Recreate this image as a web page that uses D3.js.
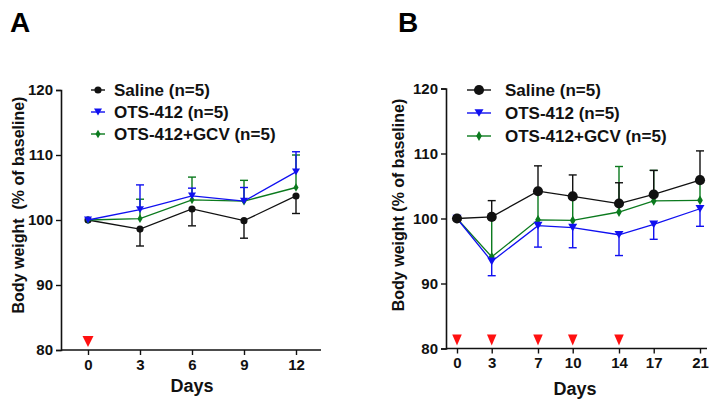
<!DOCTYPE html>
<html>
<head>
<meta charset="utf-8">
<script src="https://cdn.jsdelivr.net/npm/d3@7"></script>
<style>
  body { margin: 0; background: #fff; }
  text { font-family: Arial, "Liberation Sans", sans-serif; font-weight: bold; }
</style>
</head>
<body>
<div id="chart"></div>
<script>
// ---- data, panel A ----
const daysA = [0, 3, 6, 9, 12];
const salineA = [100, 98.6, 101.7, 99.9, 103.7];
const salineErrA = [0, 2.6, 2.6, 2.7, 2.7];          // drawn downward
const otsA = [100, 101.6, 103.7, 102.9, 107.4];
const otsErrA = [0, 3.8, 1.2, 2.1, 3.1];             // drawn upward
const gcvA = [100, 100.2, 103.1, 102.9, 105.0];
const gcvErrA = [0, 3.0, 3.5, 3.2, 5.0];             // drawn upward
const arrowsA = [0];
const legendA = ["Saline (n=5)", "OTS-412 (n=5)", "OTS-412+GCV (n=5)"];

// ---- data, panel B ----
const daysB = [0, 3, 7, 10, 14, 17, 21];
const salineB = [100, 100.25, 104.2, 103.4, 102.3, 103.7, 105.9];
const salineErrB = [0, 2.5, 3.9, 3.3, 3.2, 3.7, 4.5];   // upward
const otsB = [100, 93.4, 98.9, 98.6, 97.5, 99.1, 101.5];
const otsErrB = [0, 2.2, 3.3, 3.1, 3.2, 2.3, 2.7];      // downward
const gcvB = [100, 94.1, 99.8, 99.7, 101.0, 102.7, 102.8];
const gcvErrB = [0, 6.1, 4.4, 3.7, 7.0, 4.7, 3.1];      // upward
const arrowsB = [0, 3, 7, 10, 14];
const legendB = ["Saline (n=5)", "OTS-412 (n=5)", "OTS-412+GCV (n=5)"];

const yTicks = [80, 90, 100, 110, 120];

const BLACK = "#111", BLUE = "#1010f0", GREEN = "#0b7a1e", RED = "#ff1010";

const svg = d3.select("#chart").append("svg")
    .attr("width", 716)
    .attr("height", 407);

function tri(w, h) {
    // downward pointing triangle
    return `M${-w / 2},${-h / 2}L${w / 2},${-h / 2}L0,${h / 2}Z`;
}

function drawPanel(o) {
    const x = d3.scaleLinear().domain(o.xDomain).range(o.xRange);
    const y = d3.scaleLinear().domain([80, 120]).range(o.yRange);
    const g = svg.append("g");

    // panel letter
    g.append("text").attr("x", o.letterX).attr("y", 32)
        .style("font-size", "28px").text(o.letter);

    // axes
    const yAxis = d3.axisLeft(y).tickValues(yTicks).tickSize(5).tickPadding(3);
    const xAxis = d3.axisBottom(x).tickValues(o.xTicks).tickSize(5).tickPadding(4);

    const ya = g.append("g").attr("transform", `translate(${o.axisLeft},0)`).call(yAxis);
    const xa = g.append("g").attr("transform", `translate(0,${y(80)})`).call(xAxis);
    [ya, xa].forEach(a => {
        a.select(".domain").attr("stroke", BLACK).attr("stroke-width", 1.6);
        a.selectAll(".tick line").attr("stroke", BLACK).attr("stroke-width", 1.4);
        a.selectAll(".tick text").attr("fill", BLACK).style("font-size", "15px")
            .style("font-family", "Arial, 'Liberation Sans', sans-serif").style("font-weight", "bold");
    });
    // x axis line runs from the y axis to the right end
    xa.select(".domain").attr("d", `M${o.axisLeft},0H${o.axisRight}`);

    // axis titles
    g.append("text")
        .attr("transform", `translate(${o.yTitleX},205) rotate(-90)`)
        .attr("text-anchor", "middle").attr("dy", "0.35em")
        .style("font-size", "16px").attr("fill", BLACK).text(o.yTitle);
    g.append("text").attr("x", x(o.daysLabelAt)).attr("y", o.daysY)
        .attr("text-anchor", "middle").style("font-size", "18px").attr("fill", BLACK).text("Days");

    // red treatment arrows
    g.selectAll(".arrow").data(o.arrows).join("path")
        .attr("transform", d => `translate(${x(d)},${y(81.3)})`)
        .attr("d", tri(o.arrowW, 11)).attr("fill", RED);

    const line = d3.line().x(d => x(d[0])).y(d => y(d[1]));
    const capW = 4;

    function series(vals, errs, dir, color, symbol) {
        const pts = o.days.map((d, i) => [d, vals[i], errs[i]]);
        const s = g.append("g");
        s.append("path").datum(pts).attr("d", line)
            .attr("fill", "none").attr("stroke", color).attr("stroke-width", 1.3);
        const eb = s.selectAll(".err").data(pts.filter(p => p[2] > 0)).join("g");
        eb.append("line")
            .attr("x1", d => x(d[0])).attr("x2", d => x(d[0]))
            .attr("y1", d => y(d[1])).attr("y2", d => y(d[1] + dir * d[2]))
            .attr("stroke", color).attr("stroke-width", 1.4);
        eb.append("line")
            .attr("x1", d => x(d[0]) - capW).attr("x2", d => x(d[0]) + capW)
            .attr("y1", d => y(d[1] + dir * d[2])).attr("y2", d => y(d[1] + dir * d[2]))
            .attr("stroke", color).attr("stroke-width", 1.4);
        s.selectAll(".pt").data(pts).join("path")
            .attr("transform", d => `translate(${x(d[0])},${y(d[1])})`)
            .attr("d", symbol).attr("fill", color);
    }

    const circle = d3.symbol(d3.symbolCircle, o.circleSize)();
    const diamond = d3.symbol(d3.symbolDiamond, o.diamondSize)();
    const triangle = tri(o.triW, o.triW * 0.85);

    o.drawOrder.forEach(k => {
        if (k === "gcv") series(o.gcv, o.gcvErr, o.gcvDir, GREEN, diamond);
        if (k === "ots") series(o.ots, o.otsErr, o.otsDir, BLUE, triangle);
        if (k === "saline") series(o.saline, o.salineErr, o.salineDir, BLACK, circle);
    });

    // legend
    const syms = [circle, triangle, diamond];
    const cols = [BLACK, BLUE, GREEN];
    const lg = g.selectAll(".leg").data(o.legend).join("g")
        .attr("transform", (d, i) => `translate(0,${o.legendY[i]})`);
    lg.append("line").attr("x1", o.legX[0]).attr("x2", o.legX[1])
        .attr("stroke", (d, i) => cols[i]).attr("stroke-width", 1.4);
    lg.append("path").attr("transform", `translate(${(o.legX[0] + o.legX[1]) / 2},0)`)
        .attr("d", (d, i) => syms[i]).attr("fill", (d, i) => cols[i]);
    lg.append("text").attr("x", o.legTextX).attr("dy", "0.36em")
        .style("font-size", "17px").attr("fill", BLACK).text(d => d);
}

drawPanel({
    letter: "A", letterX: 10,
    days: daysA, xTicks: daysA,
    xDomain: [0, 12], xRange: [88, 296], yRange: [350, 90],
    axisLeft: 61, axisRight: 321,
    saline: salineA, salineErr: salineErrA, salineDir: -1,
    ots: otsA, otsErr: otsErrA, otsDir: 1,
    gcv: gcvA, gcvErr: gcvErrA, gcvDir: 1,
    drawOrder: ["saline", "gcv", "ots"],
    circleSize: 40, diamondSize: 22, triW: 8,
    arrows: arrowsA, arrowW: 11,
    yTitle: "Body weight\u00a0\u00a0(% of baseline)", yTitleX: 18,
    daysLabelAt: 6, daysY: 392,
    legend: legendA, legendY: [90, 112, 134], legX: [91, 105], legTextX: 114
});

drawPanel({
    letter: "B", letterX: 398,
    days: daysB, xTicks: daysB,
    xDomain: [0, 21], xRange: [457, 700], yRange: [348.5, 88.5],
    axisLeft: 446, axisRight: 707,
    saline: salineB, salineErr: salineErrB, salineDir: 1,
    ots: otsB, otsErr: otsErrB, otsDir: -1,
    gcv: gcvB, gcvErr: gcvErrB, gcvDir: 1,
    drawOrder: ["gcv", "ots", "saline"],
    circleSize: 80, diamondSize: 28, triW: 9,
    arrows: arrowsB, arrowW: 9.5,
    yTitle: "Body weight (% of baseline)", yTitleX: 398,
    daysLabelAt: 10.2, daysY: 395,
    legend: legendB, legendY: [90, 113, 136], legX: [467, 491], legTextX: 505
});
</script>
</body>
</html>
